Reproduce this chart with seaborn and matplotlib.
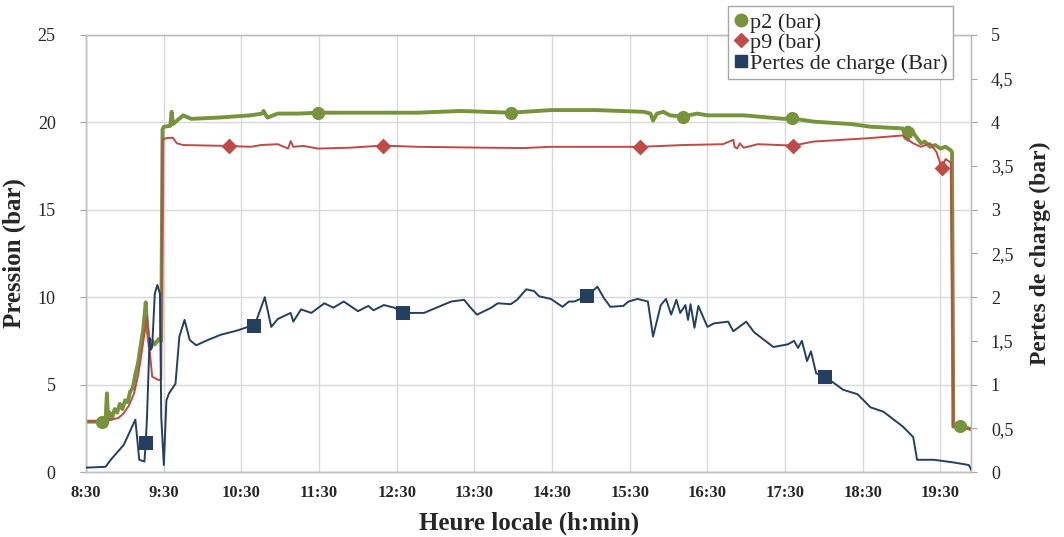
import pandas as pd
import numpy as np
import matplotlib
matplotlib.use("Agg")
import matplotlib.pyplot as plt
from matplotlib.lines import Line2D
from matplotlib.ticker import FuncFormatter, MultipleLocator
import seaborn as sns

# p2 (bar) - pression amont
p2_time = ["8:30", "8:42", "8:45", "8:46", "8:47", "8:48", "8:50", "8:52", "8:54", "8:56",
           "8:58", "9:00", "9:02", "9:04", "9:06", "9:08", "9:10", "9:12", "9:14", "9:16",
           "9:17", "9:19", "9:21", "9:23", "9:26", "9:28", "9:29", "9:30", "9:35", "9:36",
           "9:37", "9:45", "9:51", "10:12", "10:37", "10:46", "10:47", "10:50", "10:58", "11:14",
           "11:29", "11:54", "12:46", "13:19", "13:58", "14:29", "15:04", "15:41", "15:46", "15:48",
           "15:51", "15:56", "16:01", "16:11", "16:22", "16:30", "16:58", "17:29", "17:35", "17:52",
           "18:21", "18:36", "19:01", "19:03", "19:04", "19:05", "19:06", "19:07", "19:08", "19:10",
           "19:13", "19:15", "19:18", "19:22", "19:26", "19:30", "19:34", "19:38", "19:39", "19:40",
           "19:45", "19:54"]
p2_bar = [2.88, 2.88, 2.95, 4.5, 3.0, 3.4, 3.1, 3.6, 3.4, 3.9,
          3.6, 4.1, 4.0, 4.6, 4.8, 5.6, 6.2, 7.2, 8.1, 9.7,
          8.4, 7.2, 7.5, 7.3, 7.6, 7.5, 19.6, 19.75, 19.8, 20.6,
          19.9, 20.4, 20.2, 20.27, 20.4, 20.5, 20.65, 20.27, 20.5, 20.5,
          20.55, 20.55, 20.55, 20.65, 20.55, 20.7, 20.7, 20.6, 20.5, 20.1,
          20.5, 20.6, 20.4, 20.33, 20.5, 20.4, 20.4, 20.2, 20.23, 20.04,
          19.9, 19.75, 19.65, 19.1, 19.7, 19.0, 19.7, 19.2, 19.6, 19.3,
          19.0, 18.8, 18.9, 18.6, 18.7, 18.5, 18.6, 18.4, 18.3, 2.6,
          2.63, 2.45]

# p9 (bar) - pression aval
p9_time = ["8:30", "8:47", "8:55", "8:59", "9:03", "9:07", "9:10", "9:12", "9:15", "9:17",
           "9:19", "9:21", "9:26", "9:28", "9:29", "9:32", "9:37", "9:40", "9:45", "10:20",
           "10:37", "10:45", "10:58", "11:06", "11:08", "11:10", "11:18", "11:29", "11:54", "12:19",
           "12:46", "13:37", "14:08", "14:29", "15:31", "15:38", "16:11", "16:42", "16:50", "16:51",
           "16:53", "16:55", "16:58", "17:09", "17:36", "17:52", "18:36", "19:01", "19:05", "19:07",
           "19:09", "19:15", "19:22", "19:27", "19:31", "19:34", "19:38", "19:40", "19:54"]
p9_bar = [2.9, 2.94, 3.1, 3.36, 3.8, 4.5, 5.5, 6.4, 7.9, 8.88,
          6.98, 5.45, 5.26, 5.3, 19.0, 19.1, 19.12, 18.8, 18.7, 18.65,
          18.6, 18.7, 18.75, 18.5, 18.93, 18.6, 18.65, 18.5, 18.55, 18.67,
          18.6, 18.55, 18.53, 18.6, 18.6, 18.6, 18.7, 18.75, 19.0, 18.6,
          18.5, 18.8, 18.55, 18.75, 18.67, 18.9, 19.1, 19.25, 19.0, 18.9,
          18.8, 18.6, 18.8, 18.3, 17.4, 17.9, 17.7, 2.6, 2.45]

# pertes de charge (bar) - axe de droite
dp_time = ["8:30", "8:45", "8:49", "8:59", "9:08", "9:11", "9:15", "9:16", "9:17", "9:19",
           "9:20", "9:21", "9:23", "9:25", "9:27", "9:28", "9:30", "9:32", "9:34", "9:39",
           "9:42", "9:46", "9:50", "9:55", "10:04", "10:14", "10:27", "10:35", "10:40", "10:48",
           "10:53", "10:58", "11:08", "11:10", "11:16", "11:24", "11:34", "11:41", "11:49", "12:00",
           "12:08", "12:12", "12:20", "12:28", "12:35", "12:51", "13:12", "13:22", "13:27", "13:32",
           "13:43", "13:48", "13:58", "14:03", "14:10", "14:16", "14:20", "14:29", "14:38", "14:43",
           "14:47", "14:57", "15:05", "15:10", "15:15", "15:25", "15:29", "15:36", "15:44", "15:48",
           "15:54", "15:58", "16:02", "16:06", "16:09", "16:13", "16:15", "16:17", "16:20", "16:23",
           "16:30", "16:35", "16:46", "16:50", "17:00", "17:06", "17:13", "17:21", "17:32", "17:37",
           "17:40", "17:43", "17:47", "17:50", "17:54", "18:01", "18:15", "18:26", "18:36", "18:46",
           "19:01", "19:09", "19:12", "19:25", "19:40", "19:52", "19:54"]
dp_bar = [0.05, 0.06, 0.14, 0.31, 0.6, 0.14, 0.12, 0.33, 0.63, 1.53,
          1.4, 1.43, 2.04, 2.14, 2.04, 0.63, 0.08, 0.82, 0.9, 1.01,
          1.55, 1.74, 1.51, 1.45, 1.51, 1.57, 1.62, 1.66, 1.67, 2.0,
          1.66, 1.75, 1.82, 1.72, 1.86, 1.82, 1.93, 1.88, 1.95, 1.84,
          1.9, 1.85, 1.91, 1.88, 1.82, 1.82, 1.95, 1.97, 1.88, 1.8,
          1.88, 1.93, 1.92, 1.97, 2.09, 2.07, 2.01, 1.98, 1.89, 1.95,
          1.95, 2.01, 2.12, 1.99, 1.89, 1.9, 1.95, 1.98, 1.95, 1.55,
          1.91, 1.98, 1.8, 1.97, 1.82, 1.91, 1.74, 1.92, 1.65, 1.9,
          1.66, 1.7, 1.72, 1.61, 1.72, 1.6, 1.52, 1.43, 1.46, 1.5,
          1.42, 1.5, 1.27, 1.38, 1.13, 1.09, 0.94, 0.89, 0.74, 0.69,
          0.52, 0.4, 0.14, 0.14, 0.11, 0.08, 0.02]

# points avec marqueurs (comme dans Excel)
p2_mk_time = ["8:42", "11:29", "13:58", "16:11", "17:35", "19:45"]
p2_mk_bar = [2.88, 20.55, 20.55, 20.33, 20.23, 2.63]
p9_mk_time = ["10:20", "12:19", "15:38", "17:36", "19:31"]
p9_mk_bar = [18.65, 18.67, 18.6, 18.67, 17.4]
dp_mk_time = ["9:16", "10:40", "12:35", "14:57", "18:01"]
dp_mk_bar = [0.33, 1.67, 1.82, 2.01, 1.09]

hour_ticks = ["8:30", "9:30", "10:30", "11:30", "12:30", "13:30", "14:30",
              "15:30", "16:30", "17:30", "18:30", "19:30"]


def to_hours(times):
    return pd.to_timedelta([t + ":00" for t in times]).total_seconds() / 3600


p2_df = pd.DataFrame({"heure": to_hours(p2_time), "val": p2_bar})
p9_df = pd.DataFrame({"heure": to_hours(p9_time), "val": p9_bar})
dp_df = pd.DataFrame({"heure": to_hours(dp_time), "val": dp_bar})

sns.set_style("white")
plt.rcParams["font.family"] = ["Liberation Serif", "DejaVu Serif"]

c_p2 = "#77933C"
c_p9 = "#BE4B48"
c_dp = "#243F60"
grid_c = "#D9D9D9"

fig = plt.figure(figsize=(10.64, 5.37), dpi=100)
ax = fig.add_axes([0.081, 0.121, 0.832, 0.814])
ax2 = ax.twinx()

sns.lineplot(x="heure", y="val", data=p2_df, ax=ax, color=c_p2, linewidth=2.8, zorder=3)
sns.lineplot(x="heure", y="val", data=p9_df, ax=ax, color=c_p9, linewidth=1.4, zorder=4)
sns.scatterplot(x=to_hours(p2_mk_time), y=p2_mk_bar, ax=ax, color=c_p2, marker="o",
                s=90, linewidth=0, zorder=5)
sns.scatterplot(x=to_hours(p9_mk_time), y=p9_mk_bar, ax=ax, color=c_p9, marker="D",
                s=65, linewidth=0, zorder=5)

sns.lineplot(x="heure", y="val", data=dp_df, ax=ax2, color=c_dp, linewidth=1.4, zorder=3)
sns.scatterplot(x=to_hours(dp_mk_time), y=dp_mk_bar, ax=ax2, color=c_dp, marker="s",
                s=95, linewidth=0, zorder=5)

ax.set_xlim(8.5, 19.9)
ax.set_ylim(0, 25)
ax2.set_ylim(0, 5)

ax.set_xticks(to_hours(hour_ticks))
ax.set_xticklabels(hour_ticks, fontsize=12, fontweight="bold")
ax.yaxis.set_major_locator(MultipleLocator(5))
ax2.yaxis.set_major_locator(MultipleLocator(0.5))
ax2.yaxis.set_major_formatter(FuncFormatter(lambda v, p: f"{v:g}".replace(".", ",")))

ax.tick_params(axis="y", labelsize=13, length=4, color="#A6A6A6", pad=18)
ax.tick_params(axis="x", length=0, pad=9)
ax2.tick_params(axis="y", labelsize=13, length=4, color="#A6A6A6", pad=10)

ax.grid(True, color=grid_c, linewidth=1)
ax.set_axisbelow(True)
for a in (ax, ax2):
    for sp in a.spines.values():
        sp.set_color("#BFBFBF")
        sp.set_linewidth(1)

ax.set_xlabel("Heure locale (h:min)", fontsize=18, fontweight="bold", labelpad=8)
ax.set_ylabel("Pression (bar)", fontsize=18, fontweight="bold", labelpad=8)
ax2.set_ylabel("Pertes de charge (bar)", fontsize=17, fontweight="bold", labelpad=12)

handles = [
    Line2D([], [], color=c_p2, marker="o", linestyle="none", markersize=9),
    Line2D([], [], color=c_p9, marker="D", linestyle="none", markersize=7),
    Line2D([], [], color=c_dp, marker="s", linestyle="none", markersize=9),
]
leg = fig.legend(handles, ["p2 (bar)", "p9 (bar)", "Pertes de charge (Bar)"],
                 loc="upper right", bbox_to_anchor=(0.896, 0.988), fontsize=16,
                 frameon=True, fancybox=False, framealpha=1, edgecolor="#A6A6A6",
                 handlelength=0.7, handletextpad=0.05, labelspacing=0.0,
                 borderpad=0.25, borderaxespad=0)
leg.get_frame().set_linewidth(1)

fig.savefig("out.png", dpi=100)
